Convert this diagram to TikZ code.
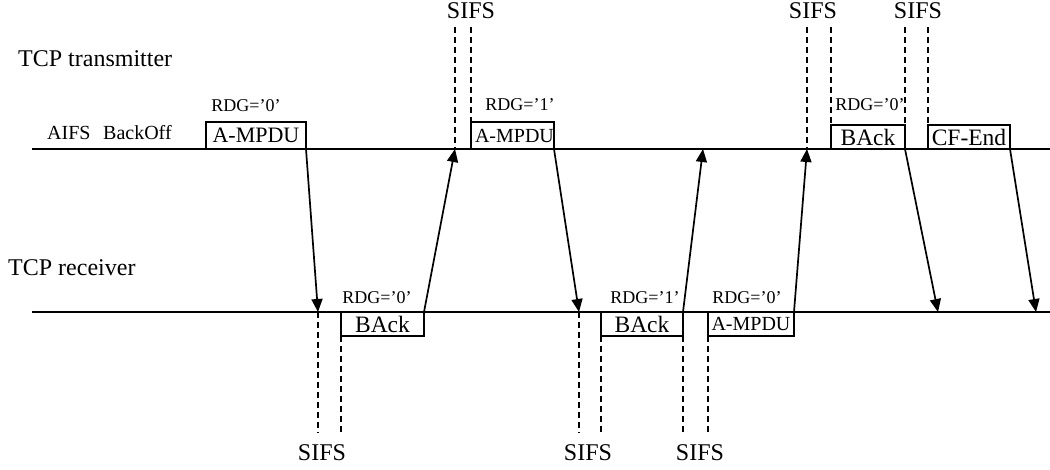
\documentclass[tikz,border=0pt]{standalone}
\usepackage{fontspec}
\setmainfont{Liberation Serif}
\usetikzlibrary{arrows.meta}
\tikzset{
  lbl/.style={inner sep=0pt, font=\fontsize{24}{26}\selectfont},
  small/.style={inner sep=0pt, font=\fontsize{20}{22}\selectfont},
  rdg/.style={inner sep=0pt, font=\fontsize{18}{20}\selectfont},
  frame/.style={draw, line width=1.2pt, inner sep=0pt, outer sep=0pt, anchor=south west},
  bigf/.style={font=\fontsize{23.5}{25}\selectfont},
  midf/.style={font=\fontsize{20}{22}\selectfont},
  widef/.style={font=\fontsize{22}{24}\selectfont},
  base/.style={line width=1.5pt},
  msg/.style={line width=1.7pt, -{Triangle[length=13pt,width=11pt]}},
  sifs/.style={line width=1.4pt, dash pattern=on 6pt off 4pt}
}
\begin{document}
\begin{tikzpicture}[x=1pt,y=-1pt]
\useasboundingbox (0,0) rectangle (1050,469);
% time lines
\coordinate (tl) at (32,149); \coordinate (tr) at (1050,149);
\coordinate (bl) at (32,312); \coordinate (br) at (1050,312);
\draw[base] (tl) -- (tr);
\draw[base] (bl) -- (br);
% station labels
\node[lbl, anchor=west] (tx) at (18,59) {TCP transmitter};
\node[lbl, anchor=west] (rx) at (8,268) {TCP receiver};
\node[small, anchor=west] (aifs) at (47,133) {AIFS};
\node[small, anchor=west] (bo) at (103,133) {BackOff};
% transmitter frames
\node[frame, widef, minimum width=100pt, minimum height=27pt] (t1) at (206,149) {A-MPDU};
\node[frame, midf, minimum width=83pt, minimum height=27pt] (t2) at (471,149) {\hspace*{4pt}A-MPDU};
\node[frame, bigf, minimum width=74pt, minimum height=24pt] (t3) at (831,149) {BAck};
\node[frame, bigf, minimum width=82pt, minimum height=24pt] (t4) at (928,149) {CF-End};
% receiver frames
\node[frame, bigf, minimum width=83pt, minimum height=24pt, anchor=north west] (r1) at (341,312) {BAck};
\node[frame, bigf, minimum width=82pt, minimum height=24pt, anchor=north west] (r2) at (601,312) {BAck};
\node[frame, midf, minimum width=86pt, minimum height=24pt, anchor=north west] (r3) at (708,312) {A-MPDU};
% RDG labels
\node[rdg] (g1) at (246,106) {RDG=’0’};
\node[rdg] (g2) at (520,105) {RDG=’1’};
\node[rdg] (g3) at (870,105) {RDG=’0’};
\node[rdg] (g4) at (377,298) {RDG=’0’};
\node[rdg] (g5) at (645,298) {RDG=’1’};
\node[rdg] (g6) at (747,298) {RDG=’0’};
% arrow end points
\coordinate (e1) at (318,312);
\coordinate (e2) at (455,149);
\coordinate (e3) at (579,312);
\coordinate (e4) at (703,149);
\coordinate (e5) at (807,149);
\coordinate (e6) at (938,312);
\coordinate (e7) at (1036,312);
% messages
\draw[msg] (t1.south east) -- (e1);
\draw[msg] (r1.north east) -- (e2);
\draw[msg] (t2.south east) -- (e3);
\draw[msg] (r2.north east) -- (e4);
\draw[msg] (r3.north east) -- (e5);
\draw[msg] (t3.south east) -- (e6);
\draw[msg] (t4.south east) -- (e7);
% SIFS labels
\node[lbl] (s1) at (471,11) {SIFS};
\node[lbl] (s2) at (813,11) {SIFS};
\node[lbl] (s3) at (918,11) {SIFS};
\node[lbl] (s4) at (322,453) {SIFS};
\node[lbl] (s5) at (588,453) {SIFS};
\node[lbl] (s6) at (700,453) {SIFS};
% top SIFS markers
\coordinate (d1) at (455,27); \coordinate (d2) at (471,27);
\coordinate (d3) at (807,27); \coordinate (d4) at (831,27);
\coordinate (d5) at (905,27); \coordinate (d6) at (928,27);
\draw[sifs] (d1) -- (e2);
\draw[sifs] (d2) -- (t2.north west);
\draw[sifs] (d3) -- (e5);
\draw[sifs] (d4) -- (t3.north west);
\draw[sifs] (d5) -- (t3.north east);
\draw[sifs] (d6) -- (t4.north west);
% bottom SIFS markers
\coordinate (u1) at (318,433); \coordinate (u2) at (341,433);
\coordinate (u3) at (579,433); \coordinate (u4) at (601,433);
\coordinate (u5) at (683,433); \coordinate (u6) at (708,433);
\draw[sifs] (e1) -- (u1);
\draw[sifs] (r1.south west) -- (u2);
\draw[sifs] (e3) -- (u3);
\draw[sifs] (r2.south west) -- (u4);
\draw[sifs] (r2.south east) -- (u5);
\draw[sifs] (r3.south west) -- (u6);
\end{tikzpicture}
\end{document}
